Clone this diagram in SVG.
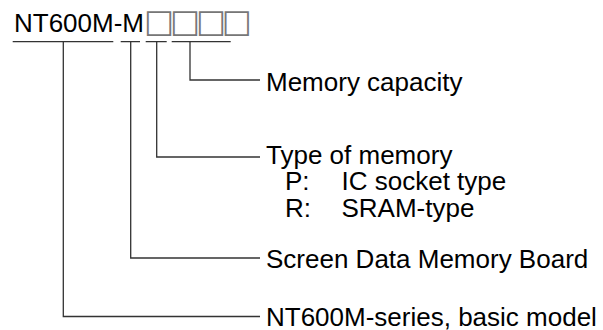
<svg xmlns="http://www.w3.org/2000/svg" width="603" height="330" viewBox="0 0 603 330">
<style>
text{font-family:"Liberation Sans",Arial,sans-serif;font-size:26px;fill:#000}
.box{font-family:"DejaVu Sans",sans-serif;font-size:32px;letter-spacing:-4.3px;fill:#777}
.ln{stroke:#333;stroke-width:1.3;fill:none}
</style>
<rect width="603" height="330" fill="#fff"/>
<g id="title"><text x="14" y="32">NT600M-M<tspan class="box">□□□□</tspan></text></g>
<g id="connectors">
<path class="ln" d="M12.7 41.7H113.3M120.7 41.7H140M145.7 41.7H166.7M171.7 41.7H230.7"/>
<path class="ln" d="M190 41.7V80H260"/>
<path class="ln" d="M156.7 41.7V157H260"/>
<path class="ln" d="M130.7 41.7V258H260"/>
<path class="ln" d="M63.3 41.7V316.5H260"/>
</g>
<g id="capacity"><text x="266" y="91">Memory capacity</text></g>
<g id="type"><text x="266" y="164">Type of memory<tspan x="285" y="190">P:</tspan><tspan x="341.5" y="190">IC socket type</tspan><tspan x="285" y="217">R:</tspan><tspan x="341.5" y="217">SRAM-type</tspan></text></g>
<g id="board"><text x="266" y="268">Screen Data Memory Board</text></g>
<g id="basic"><text x="266" y="326">NT600M-series, basic model</text></g>
</svg>
